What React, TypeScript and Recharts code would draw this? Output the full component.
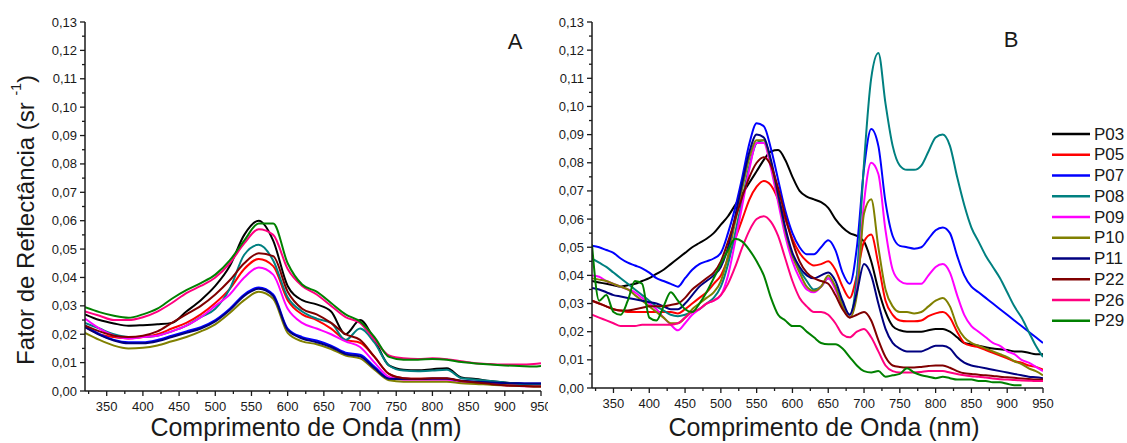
import { LineChart, Line, XAxis, YAxis } from 'recharts';

const FONT = 'Arial, "Liberation Sans", sans-serif';
const INK = '#1a1a1a';

const names = ['P03', 'P05', 'P07', 'P08', 'P09', 'P10', 'P11', 'P22', 'P26', 'P29'];
const colors = ['#000000', '#ff0000', '#0000ff', '#008080', '#ff00ff', '#808000', '#000080', '#800000', '#ff0080', '#008000'];

const xTicks = [350, 400, 450, 500, 550, 600, 650, 700, 750, 800, 850, 900, 950];
const xMinorTicks = [325, 375, 425, 475, 525, 575, 625, 675, 725, 775, 825, 875, 925];
const yTicks = [0, 0.01, 0.02, 0.03, 0.04, 0.05, 0.06, 0.07, 0.08, 0.09, 0.1, 0.11, 0.12, 0.13];
const yMinorTicks = [0.005, 0.015, 0.025, 0.035, 0.045, 0.055, 0.065, 0.075, 0.085, 0.095, 0.105, 0.115, 0.125];

// panel A (20 nm steps)
const waveA = [320, 340, 360, 380, 400, 420, 440, 460, 480, 500, 520, 540, 560, 580, 600, 620, 640, 660, 680, 700, 720, 740, 760, 780, 800, 820, 840, 860, 880, 900, 920, 940, 950];
const p03A = [0.027, 0.025, 0.0238, 0.023, 0.0232, 0.0235, 0.024, 0.028, 0.032, 0.037, 0.044, 0.055, 0.06, 0.053, 0.037, 0.032, 0.0305, 0.028, 0.02, 0.025, 0.018, 0.009, 0.0075, 0.0073, 0.0077, 0.008, 0.0048, 0.0042, 0.0035, 0.003, 0.0025, 0.0022, 0.0022];
const p05A = [0.0225, 0.02, 0.019, 0.0185, 0.019, 0.02, 0.022, 0.024, 0.027, 0.031, 0.036, 0.043, 0.0465, 0.044, 0.032, 0.027, 0.025, 0.022, 0.018, 0.017, 0.012, 0.006, 0.0045, 0.0043, 0.0043, 0.0043, 0.0033, 0.003, 0.0025, 0.002, 0.0018, 0.0017, 0.0017];
const p07A = [0.023, 0.02, 0.018, 0.0172, 0.0172, 0.018, 0.0195, 0.021, 0.0225, 0.025, 0.029, 0.034, 0.0365, 0.034, 0.022, 0.019, 0.0178, 0.016, 0.0135, 0.0128, 0.0085, 0.0045, 0.0043, 0.0042, 0.0043, 0.0043, 0.0035, 0.0033, 0.003, 0.0028, 0.0027, 0.0026, 0.0026];
const p08A = [0.024, 0.022, 0.02, 0.019, 0.019, 0.0195, 0.021, 0.023, 0.026, 0.029, 0.036, 0.048, 0.0515, 0.046, 0.033, 0.028, 0.0255, 0.024, 0.018, 0.022, 0.017, 0.009, 0.0072, 0.007, 0.0072, 0.0075, 0.0045, 0.004, 0.0035, 0.003, 0.0025, 0.0022, 0.0022];
const p09A = [0.0255, 0.022, 0.0195, 0.0185, 0.019, 0.0195, 0.021, 0.023, 0.026, 0.03, 0.034, 0.04, 0.0435, 0.041, 0.029, 0.024, 0.022, 0.02, 0.0175, 0.0155, 0.01, 0.005, 0.004, 0.004, 0.004, 0.004, 0.003, 0.0028, 0.0025, 0.002, 0.0018, 0.0017, 0.0017];
const p10A = [0.0205, 0.018, 0.016, 0.015, 0.0152, 0.016, 0.0175, 0.019, 0.021, 0.0235, 0.0275, 0.032, 0.035, 0.0325, 0.0205, 0.0175, 0.0165, 0.0148, 0.0125, 0.0115, 0.0075, 0.0038, 0.0033, 0.0033, 0.0033, 0.0033, 0.0027, 0.0025, 0.0022, 0.002, 0.0018, 0.0016, 0.0016];
const p11A = [0.0225, 0.0198, 0.0178, 0.0168, 0.0168, 0.0175, 0.019, 0.0205, 0.022, 0.0245, 0.0285, 0.0335, 0.036, 0.0335, 0.0215, 0.0185, 0.0172, 0.0155, 0.013, 0.0122, 0.008, 0.0043, 0.0042, 0.0042, 0.0043, 0.0043, 0.0036, 0.0033, 0.003, 0.0028, 0.0027, 0.0026, 0.0026];
const p22A = [0.023, 0.021, 0.0195, 0.019, 0.0195, 0.021, 0.024, 0.027, 0.03, 0.034, 0.039, 0.045, 0.0485, 0.0475, 0.035, 0.029, 0.027, 0.024, 0.02, 0.018, 0.012, 0.006, 0.0045, 0.0043, 0.0045, 0.0045, 0.0035, 0.003, 0.0025, 0.002, 0.0018, 0.0016, 0.0016];
const p26A = [0.028, 0.0265, 0.025, 0.025, 0.026, 0.028, 0.031, 0.0345, 0.037, 0.04, 0.045, 0.052, 0.057, 0.055, 0.043, 0.037, 0.034, 0.03, 0.026, 0.024, 0.018, 0.0125, 0.0115, 0.0113, 0.0115, 0.0112, 0.0105, 0.0098, 0.0095, 0.0093, 0.0093, 0.0095, 0.0098];
const p29A = [0.0295, 0.0278, 0.0265, 0.0258, 0.027, 0.029, 0.0325, 0.0355, 0.038, 0.041, 0.046, 0.053, 0.059, 0.059, 0.045, 0.0375, 0.035, 0.031, 0.027, 0.0245, 0.019, 0.012, 0.011, 0.011, 0.0113, 0.011, 0.0102, 0.0097, 0.0093, 0.009, 0.0088, 0.0086, 0.0088];

// panel B (10 nm steps)
const waveB = [
  320, 330, 340, 350, 360, 370, 380, 390, 400, 410,
  420, 430, 440, 450, 460, 470, 480, 490, 500, 510,
  520, 530, 540, 550, 560, 570, 580, 590, 600, 610,
  620, 630, 640, 650, 660, 670, 680, 690, 700, 710,
  720, 730, 740, 750, 760, 770, 780, 790, 800, 810,
  820, 830, 840, 850, 860, 870, 880, 890, 900, 910,
  920, 930, 940, 950,
];
const p03B = [
  0.038, 0.0375, 0.037, 0.0365, 0.036, 0.0365, 0.037, 0.038, 0.039, 0.0405,
  0.042, 0.044, 0.046, 0.048, 0.05, 0.0515, 0.053, 0.055, 0.058, 0.061,
  0.065, 0.069, 0.073, 0.077, 0.081, 0.084, 0.0845, 0.081, 0.075, 0.07,
  0.068, 0.067, 0.066, 0.064, 0.06, 0.057, 0.055, 0.054, 0.052, 0.045,
  0.035, 0.027, 0.022, 0.0205, 0.02, 0.02, 0.02, 0.0205, 0.021, 0.021,
  0.02, 0.018, 0.016, 0.0155, 0.015, 0.0145, 0.014, 0.0138, 0.0135, 0.013,
  0.013, 0.0125, 0.012, 0.012,
];
const p05B = [
  0.031, 0.03, 0.029, 0.028, 0.0275, 0.027, 0.027, 0.027, 0.027, 0.027,
  0.027, 0.027, 0.0265, 0.028, 0.03, 0.032, 0.034, 0.037, 0.04, 0.046,
  0.053, 0.06, 0.067, 0.0715, 0.0735, 0.072, 0.067, 0.06, 0.053, 0.048,
  0.045, 0.0435, 0.044, 0.045, 0.042, 0.036, 0.032, 0.04, 0.052, 0.0545,
  0.044, 0.031, 0.026, 0.024, 0.0237, 0.0237, 0.024, 0.0255, 0.0265, 0.027,
  0.025, 0.02, 0.016, 0.015, 0.0145, 0.0135, 0.0125, 0.0115, 0.0105, 0.0095,
  0.009, 0.008, 0.0075, 0.0065,
];
const p07B = [
  0.0505, 0.05, 0.049, 0.048, 0.046, 0.0445, 0.0435, 0.0425, 0.041, 0.039,
  0.038, 0.037, 0.036, 0.039, 0.042, 0.044, 0.045, 0.046, 0.048, 0.055,
  0.064, 0.075, 0.087, 0.094, 0.093, 0.085, 0.074, 0.063, 0.055, 0.05,
  0.0475, 0.0475, 0.05, 0.0525, 0.049, 0.041, 0.037, 0.05, 0.078, 0.092,
  0.086, 0.066, 0.054, 0.0505, 0.05, 0.0495, 0.05, 0.053, 0.056, 0.057,
  0.055, 0.047, 0.04, 0.036, 0.034, 0.032, 0.03, 0.028, 0.026, 0.024,
  0.022, 0.02, 0.018, 0.016,
];
const p08B = [
  0.046, 0.0445, 0.043, 0.041, 0.039, 0.037, 0.035, 0.033, 0.031, 0.029,
  0.0275, 0.026, 0.0255, 0.026, 0.027, 0.028, 0.03, 0.032, 0.036, 0.044,
  0.055, 0.067, 0.079, 0.087, 0.088, 0.079, 0.067, 0.056, 0.047, 0.042,
  0.038, 0.035, 0.036, 0.039, 0.036, 0.03, 0.026, 0.04, 0.08, 0.11,
  0.119, 0.101, 0.086, 0.079, 0.0775, 0.0775, 0.079, 0.084, 0.089, 0.09,
  0.086, 0.075, 0.065, 0.057, 0.052, 0.047, 0.043, 0.039, 0.034, 0.029,
  0.025, 0.02, 0.015, 0.011,
];
const p09B = [
  0.04, 0.0395, 0.038, 0.037, 0.036, 0.035, 0.034, 0.032, 0.03, 0.028,
  0.025, 0.0225, 0.0205, 0.023, 0.026, 0.028, 0.03, 0.031, 0.033, 0.04,
  0.052, 0.065, 0.078, 0.087, 0.087, 0.078, 0.066, 0.054, 0.045, 0.039,
  0.035, 0.034, 0.036, 0.039, 0.035, 0.029, 0.025, 0.035, 0.066, 0.08,
  0.076, 0.056, 0.042, 0.038, 0.037, 0.037, 0.037, 0.04, 0.043, 0.044,
  0.041, 0.033, 0.026, 0.022, 0.02, 0.018, 0.016, 0.015, 0.013, 0.012,
  0.01, 0.009, 0.0075, 0.006,
];
const p10B = [
  0.039, 0.0385, 0.038, 0.037, 0.036, 0.035, 0.033, 0.031, 0.029, 0.027,
  0.025, 0.023, 0.023, 0.025, 0.028, 0.03, 0.032, 0.034, 0.038, 0.047,
  0.059, 0.071, 0.082, 0.088, 0.088, 0.08, 0.068, 0.056, 0.047, 0.041,
  0.036, 0.0345, 0.036, 0.04, 0.036, 0.029, 0.025, 0.033, 0.062, 0.067,
  0.05, 0.035, 0.029, 0.027, 0.027, 0.0265, 0.027, 0.029, 0.031, 0.032,
  0.029, 0.022, 0.018, 0.016, 0.015, 0.014, 0.013, 0.012, 0.011, 0.0095,
  0.0085, 0.007, 0.006, 0.0045,
];
const p11B = [
  0.0355, 0.035, 0.034, 0.033, 0.0325, 0.032, 0.0315, 0.031, 0.0305, 0.03,
  0.029, 0.028, 0.028, 0.03, 0.033, 0.036, 0.038, 0.04, 0.043, 0.05,
  0.061, 0.073, 0.084, 0.09, 0.089, 0.081, 0.069, 0.057, 0.048, 0.043,
  0.04, 0.039, 0.04, 0.041, 0.038, 0.031, 0.026, 0.034, 0.044, 0.04,
  0.03, 0.021, 0.016, 0.014, 0.013, 0.013, 0.013, 0.014, 0.015, 0.015,
  0.014, 0.011, 0.009, 0.008, 0.0075, 0.007, 0.0065, 0.006, 0.0055, 0.005,
  0.0045, 0.004, 0.0038, 0.0035,
];
const p22B = [
  0.031, 0.03, 0.029, 0.028, 0.0275, 0.0275, 0.028, 0.0285, 0.029, 0.029,
  0.029, 0.0295, 0.03, 0.032, 0.035, 0.037, 0.039, 0.041, 0.045, 0.052,
  0.06, 0.068, 0.075, 0.08, 0.082, 0.079, 0.071, 0.061, 0.052, 0.045,
  0.041, 0.039, 0.038, 0.037, 0.033, 0.028, 0.025, 0.026, 0.027, 0.024,
  0.017, 0.011, 0.008, 0.0075, 0.0073, 0.0073, 0.0075, 0.0078, 0.008, 0.008,
  0.0072, 0.006, 0.0052, 0.005, 0.0047, 0.0045, 0.0043, 0.004, 0.0038, 0.0036,
  0.0034, 0.0032, 0.003, 0.003,
];
const p26B = [
  0.026, 0.025, 0.024, 0.023, 0.022, 0.022, 0.022, 0.0225, 0.0225, 0.0225,
  0.0225, 0.0225, 0.023, 0.025, 0.027, 0.028, 0.03, 0.031, 0.033, 0.037,
  0.043, 0.05, 0.056, 0.06, 0.061, 0.059, 0.054, 0.046, 0.038, 0.032,
  0.029, 0.027, 0.027, 0.026, 0.023, 0.019, 0.018, 0.02, 0.021, 0.018,
  0.013, 0.008, 0.006, 0.0055, 0.0055, 0.0055, 0.0057, 0.006, 0.006, 0.006,
  0.0055, 0.005, 0.0045, 0.0042, 0.004, 0.0037, 0.0034, 0.0031, 0.003, 0.0028,
  0.0027, 0.0026, 0.0025, 0.0025,
];
const p29B = [
  0.051, 0.031, 0.033, 0.027, 0.026, 0.031, 0.038, 0.037, 0.025, 0.024,
  0.029, 0.034, 0.031, 0.028, 0.027, 0.03, 0.034, 0.039, 0.044, 0.049,
  0.053, 0.052, 0.049, 0.045, 0.04, 0.032, 0.026, 0.024, 0.022, 0.022,
  0.02, 0.018, 0.016, 0.0155, 0.0155, 0.014, 0.011, 0.008, 0.006, 0.0055,
  0.006, 0.004, 0.0045, 0.005, 0.007, 0.0055, 0.0045, 0.004, 0.0035, 0.004,
  0.0035, 0.003, 0.003, 0.003, 0.0025, 0.0025, 0.002, 0.002, 0.0015, 0.001,
  0.001, null, null, null,
];

const seriesA = [p03A, p05A, p07A, p08A, p09A, p10A, p11A, p22A, p26A, p29A];
const seriesB = [p03B, p05B, p07B, p08B, p09B, p10B, p11B, p22B, p26B, p29B];

const buildRows = (waves: number[], series: (number | null)[][]) =>
  waves.map((wl, i) => {
    const row: Record<string, number | null> = { wl };
    names.forEach((n, k) => { row[n] = series[k][i]; });
    return row;
  });

const dataA = buildRows(waveA, seriesA);
const dataB = buildRows(waveB, seriesB);

const fmt = (v: number) => v.toFixed(2).replace('.', ',');

function YTick(props: any) {
  const { x, y, payload } = props;
  const major = yTicks.includes(payload.value);
  return (
    <g>
      <line x1={x} x2={x - (major ? 5 : 3)} y1={y} y2={y} stroke={INK} strokeWidth={1.3} />
      {major && (
        <text x={x - 8} y={y} textAnchor="end" dominantBaseline="central" fontSize={13} fontFamily={FONT} fill={INK}>
          {fmt(payload.value)}
        </text>
      )}
    </g>
  );
}

function XTick(props: any) {
  const { x, y, payload } = props;
  const major = xTicks.includes(payload.value);
  return (
    <g>
      <line x1={x} x2={x} y1={y} y2={y + (major ? 5 : 3)} stroke={INK} strokeWidth={1.3} />
      {major && (
        <text x={x} y={y + 15} textAnchor="middle" dominantBaseline="central" fontSize={13} fontFamily={FONT} fill={INK}>
          {payload.value}
        </text>
      )}
    </g>
  );
}

interface PanelProps {
  data: Record<string, number | null>[];
  width: number;
  margin: { top: number; right: number; bottom: number; left: number };
  yWidth: number;
}

function Panel({ data, width, margin, yWidth }: PanelProps) {
  return (
    <LineChart width={width} height={443} data={data} margin={margin}>
      <XAxis
        dataKey="wl"
        type="number"
        domain={[320, 950]}
        allowDataOverflow
        ticks={[...xMinorTicks, ...xTicks].sort((a, b) => a - b)}
        interval={0}
        tickSize={0}
        tickMargin={0}
        tickLine={false}
        axisLine={{ stroke: INK, strokeWidth: 1.5 }}
        tick={(p: any) => <XTick {...p} />}
        height={30}
      />
      <YAxis
        type="number"
        domain={[0, 0.13]}
        allowDataOverflow
        ticks={[...yMinorTicks, ...yTicks].sort((a, b) => a - b)}
        interval={0}
        tickSize={0}
        tickMargin={0}
        tickLine={false}
        axisLine={{ stroke: INK, strokeWidth: 1.5 }}
        tick={(p: any) => <YTick {...p} />}
        width={yWidth}
      />
      {names.map((n, k) => (
        <Line
          key={n}
          type="monotone"
          dataKey={n}
          stroke={colors[k]}
          strokeWidth={2}
          dot={false}
          activeDot={false}
          isAnimationActive={false}
        />
      ))}
    </LineChart>
  );
}

export default function App() {
  return (
    <div style={{ position: 'absolute', left: 0, top: 0, width: 1127, height: 443, background: '#fff', fontFamily: FONT, overflow: 'hidden' }}>
      <div style={{ position: 'absolute', left: 0, top: 0 }}>
        <Panel data={dataA} width={560} yWidth={45} margin={{ top: 22, right: 19, bottom: 22, left: 40 }} />
      </div>
      <div style={{ position: 'absolute', left: 548, top: 0, width: 579, height: 443, background: '#fff' }}>
        <Panel data={dataB} width={579} yWidth={44} margin={{ top: 22, right: 84, bottom: 25, left: 0 }} />
      </div>
      <svg width={1127} height={443} style={{ position: 'absolute', left: 0, top: 0, pointerEvents: 'none' }}>
        <text transform="translate(25,220) rotate(-90)" textAnchor="middle" dominantBaseline="central" fontSize={24} fontFamily={FONT} fill={INK}>
          Fator de Reflectância (sr <tspan fontSize={14} dy={-9}>-1</tspan><tspan dy={9}>)</tspan>
        </text>
        <text x={306} y={436} textAnchor="middle" fontSize={25} fontFamily={FONT} fill={INK}>Comprimento de Onda (nm)</text>
        <text x={824} y={436} textAnchor="middle" fontSize={25} fontFamily={FONT} fill={INK}>Comprimento de Onda (nm)</text>
        <text x={515} y={41} textAnchor="middle" dominantBaseline="central" fontSize={22} fontFamily={FONT} fill={INK}>A</text>
        <text x={1011} y={39} textAnchor="middle" dominantBaseline="central" fontSize={22} fontFamily={FONT} fill={INK}>B</text>
        {names.map((n, k) => (
          <g key={n}>
            <line x1={1052} x2={1090} y1={134 + k * 20.75} y2={134 + k * 20.75} stroke={colors[k]} strokeWidth={2.5} />
            <text x={1094} y={134 + k * 20.75} dominantBaseline="central" fontSize={17} fontFamily={FONT} fill={INK}>{n}</text>
          </g>
        ))}
      </svg>
    </div>
  );
}
